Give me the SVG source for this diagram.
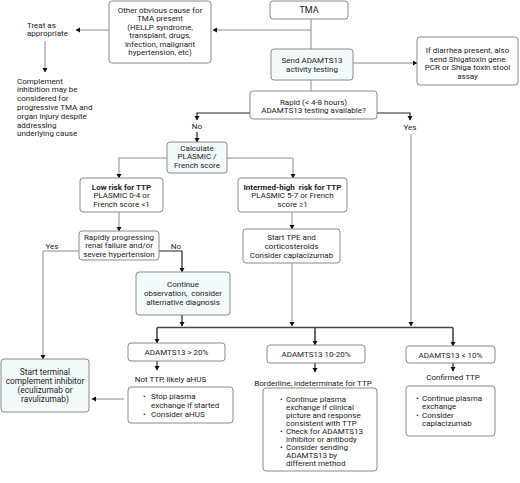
<svg xmlns="http://www.w3.org/2000/svg" width="520" height="483" viewBox="0 0 520 483">
<defs>
<marker id="ah" markerUnits="userSpaceOnUse" markerWidth="6" markerHeight="6" refX="4" refY="2.5" orient="auto">
<path d="M0,0 L4.5,2.5 L0,5 Z" fill="#111"/>
</marker>
<style>
text{font-family:Roboto,"Liberation Sans",Arial,sans-serif;font-size:8px;fill:#222}
.c{text-anchor:middle}
.b{font-weight:bold}
.box{fill:#fff;stroke:#8a8a8a;stroke-width:1}
.blue{fill:#f2fafc}
.ln{fill:none;stroke:#8c8c8c;stroke-width:1}
.dk{fill:none;stroke:#222;stroke-width:1.2}
.mg{fill:none;stroke:#444;stroke-width:1.6}
.a{marker-end:url(#ah)}
</style>
</defs>
<rect width="520" height="483" fill="#fff"/>

<g id="connectors">
<line class="ln" x1="311" y1="19" x2="311" y2="49"/>
<path class="ln a" d="M311,30 H213"/>
<path class="ln a" d="M109,30 H76"/>
<path class="ln a" d="M45,41 V72"/>
<path class="ln a" d="M353,63 H417"/>
<line class="ln" x1="311" y1="80" x2="311" y2="91"/>
<path class="dk a" d="M250,113 H197 V120"/>
<path class="dk a" d="M197,132 V142"/>
<path class="dk a" d="M377,113 H410 V120"/>
<path class="ln a" d="M411,134 V326"/>
<path class="ln a" d="M167,158 H119 V178"/>
<path class="ln a" d="M227,158 H293 V178"/>
<path class="ln a" d="M119,212 V231"/>
<path class="ln a" d="M292,212 V229"/>
<path class="ln a" d="M292,263 V326"/>
<path class="ln a" d="M79,251 H43 V359"/>
<path class="dk a" d="M159,251 H182 V272"/>
<path class="dk a" d="M182,315 V326"/>
<path class="mg" d="M157,327.5 H453"/>
<path class="mg a" d="M157,327.5 V343"/>
<path class="mg a" d="M315,327.5 V345"/>
<path class="mg a" d="M453,327.5 V346"/>
<path class="dk a" d="M157,361 V370"/>
<path class="dk a" d="M315,363 V372"/>
<path class="dk a" d="M453,363 V371"/>
<path class="ln a" d="M124,399 H92"/>
</g>

<g id="tma">
<rect class="box" x="270" y="1" width="78" height="18" rx="3"/>
<text class="c" x="309" y="13" style="font-size:9px">TMA</text>
</g>

<g id="other-cause">
<rect class="box" x="109" y="1" width="102" height="62" rx="3"/>
<text class="c" x="160" y="13">Other obvious cause for</text>
<text class="c" x="160" y="21.4">TMA present</text>
<text class="c" x="160" y="29.8">(HELLP syndrome,</text>
<text class="c" x="160" y="38.2">transplant, drugs,</text>
<text class="c" x="160" y="46.6">infection, malignant</text>
<text class="c" x="160" y="55">hypertension, etc)</text>
</g>

<g id="treat">
<text x="27" y="27.5">Treat as</text>
<text x="27" y="36">appropriate</text>
</g>

<g id="complement-note">
<text x="17" y="83.5">Complement</text>
<text x="17" y="92.3">inhibition may be</text>
<text x="17" y="101.1">considered for</text>
<text x="17" y="109.9">progressive TMA and</text>
<text x="17" y="118.7">organ injury despite</text>
<text x="17" y="127.5">addressing</text>
<text x="17" y="136.3">underlying cause</text>
</g>

<g id="send">
<rect class="box blue" x="271" y="49" width="82" height="31" rx="3"/>
<text class="c" x="312" y="62.5">Send ADAMTS13</text>
<text class="c" x="312" y="71.5">activity testing</text>
</g>

<g id="shiga">
<rect class="box" x="417" y="37" width="101" height="48" rx="3"/>
<text class="c" x="467.5" y="53">If diarrhea present, also</text>
<text class="c" x="467.5" y="61.5">send Shigatoxin gene</text>
<text class="c" x="467.5" y="70">PCR or Shiga toxin stool</text>
<text class="c" x="467.5" y="78.5">assay</text>
</g>

<g id="rapid">
<rect class="box" x="250" y="91" width="127" height="28" rx="3"/>
<text class="c" x="313.5" y="104.5">Rapid (&lt; 4-8 hours)</text>
<text class="c" x="313.5" y="113">ADAMTS13 testing available?</text>
</g>

<g id="labels">
<text class="c" x="197" y="128.5">No</text>
<text class="c" x="410" y="129.5">Yes</text>
<text class="c" x="52" y="248.5">Yes</text>
<text class="c" x="176" y="248.5">No</text>
</g>

<g id="calculate">
<rect class="box blue" x="167" y="142" width="60" height="31" rx="3"/>
<text class="c" x="197" y="150.5">Calculate</text>
<text class="c" x="197" y="159">PLASMIC /</text>
<text class="c" x="197" y="167.5">French score</text>
</g>

<g id="low-risk">
<rect class="box" x="80" y="178" width="83" height="34" rx="3"/>
<text class="c b" x="121.5" y="189.5">Low risk for TTP</text>
<text class="c" x="121.5" y="198">PLASMIC 0-4 or</text>
<text class="c" x="121.5" y="206.5">French score &lt;1</text>
</g>

<g id="intermed-risk">
<rect class="box" x="238" y="178" width="109" height="34" rx="3"/>
<text class="c b" x="292.5" y="189.5" xml:space="preserve">Intermed-high  risk for TTP</text>
<text class="c" x="292.5" y="198">PLASMIC 5-7 or French</text>
<text class="c" x="292.5" y="206.5">score ≥1</text>
</g>

<g id="rapidly-progressing">
<rect class="box" x="79" y="231" width="80" height="29" rx="3"/>
<text class="c" x="119" y="239.5">Rapidly progressing</text>
<text class="c" x="119" y="248">renal failure and/or</text>
<text class="c" x="119" y="256.5">severe hypertension</text>
</g>

<g id="start-tpe">
<rect class="box" x="243" y="229" width="97" height="34" rx="3"/>
<text class="c" x="291.5" y="240">Start TPE and</text>
<text class="c" x="291.5" y="249">corticosteroids</text>
<text class="c" x="291.5" y="258">Consider caplacizumab</text>
</g>

<g id="continue-observation">
<rect class="box blue" x="136" y="272" width="94" height="43" rx="3"/>
<text class="c" x="183" y="286.5">Continue</text>
<text class="c" x="183" y="295.5" xml:space="preserve">observation,  consider</text>
<text class="c" x="183" y="304.5">alternative diagnosis</text>
</g>

<g id="adamts-gt20">
<rect class="box" x="128" y="343" width="97" height="18" rx="3"/>
<text class="c" x="176.5" y="355">ADAMTS13 &gt; 20%</text>
<text class="c" x="170.5" y="382">Not TTP, likely aHUS</text>
</g>

<g id="gt20-actions">
<rect class="box" x="128" y="387" width="105" height="36" rx="3"/>
<text x="143" y="398.5">•</text><text x="151" y="398.5">Stop plasma</text>
<text x="151" y="407.5">exchange if started</text>
<text x="143" y="416.5">•</text><text x="151" y="416.5">Consider aHUS</text>
</g>

<g id="terminal-complement">
<rect class="box blue" x="1" y="359" width="88" height="53" rx="3"/>
<text class="c" x="45" y="375" style="font-size:8.3px">Start terminal</text>
<text class="c" x="45" y="384" style="font-size:8.3px">complement inhibitor</text>
<text class="c" x="45" y="393" style="font-size:8.3px">(eculizumab or</text>
<text class="c" x="45" y="402" style="font-size:8.3px">ravulizumab)</text>
</g>

<g id="adamts-10-20">
<rect class="box" x="267" y="345" width="98" height="18" rx="3"/>
<text class="c" x="316" y="357">ADAMTS13 10-20%</text>
<text class="c" x="313" y="386">Borderline, indeterminate for TTP</text>
</g>

<g id="borderline-actions">
<rect class="box" x="263" y="388" width="114" height="83" rx="3"/>
<text x="280" y="401.5">•</text><text x="286" y="401.5">Continue plasma</text>
<text x="286" y="409.6">exchange if clinical</text>
<text x="286" y="417.7">picture and response</text>
<text x="286" y="425.8">consistent with TTP</text>
<text x="280" y="433.9">•</text><text x="286" y="433.9">Check for ADAMTS13</text>
<text x="286" y="442">inhibitor or antibody</text>
<text x="280" y="450.1">•</text><text x="286" y="450.1">Consider sending</text>
<text x="286" y="458.2">ADAMTS13 by</text>
<text x="286" y="466.3">different method</text>
</g>

<g id="adamts-lt10">
<rect class="box" x="406" y="346" width="89" height="17" rx="3"/>
<text class="c" x="450.5" y="357.5">ADAMTS13 &lt; 10%</text>
<text class="c" x="453" y="380">Confirmed TTP</text>
</g>

<g id="confirmed-actions">
<rect class="box" x="406" y="386" width="89" height="50" rx="3"/>
<text x="416" y="400.5">•</text><text x="422" y="400.5">Continue plasma</text>
<text x="422" y="409">exchange</text>
<text x="416" y="417.5">•</text><text x="422" y="417.5">Consider</text>
<text x="422" y="426">caplacizumab</text>
</g>
</svg>
